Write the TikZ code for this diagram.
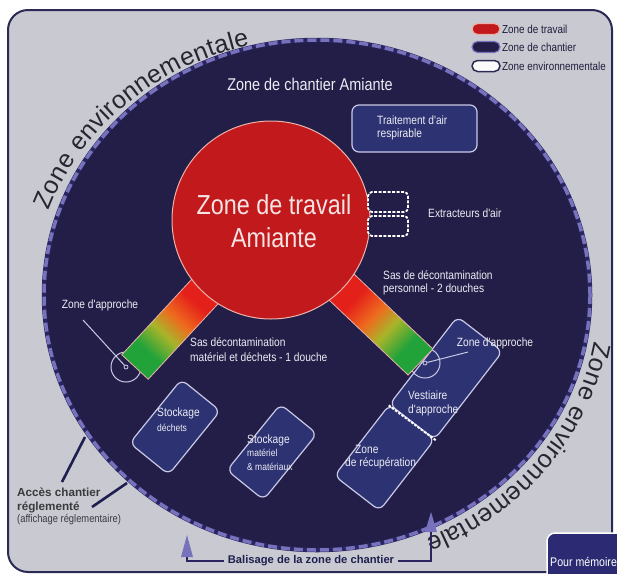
\documentclass[tikz,border=0pt]{standalone}
\usepackage{fontspec}
\setmainfont{Liberation Sans}
\newfontfamily\nar[FakeStretch=0.85]{Liberation Sans}
\usetikzlibrary{decorations.text}
\definecolor{bgframe}{HTML}{C8C9D1}
\definecolor{framec}{HTML}{2B2A55}
\definecolor{navy}{HTML}{231E47}
\definecolor{lav}{HTML}{7772BC}
\definecolor{ringdark}{HTML}{2A2560}
\definecolor{redz}{HTML}{C2191C}
\definecolor{redb}{HTML}{EBB2AA}
\definecolor{boxfill}{HTML}{2D3272}
\definecolor{boxline}{HTML}{C9C9E6}
\definecolor{txtw}{HTML}{ECECF4}
\definecolor{sgreen}{HTML}{22A33A}
\definecolor{solive}{HTML}{A9B42A}
\definecolor{sorange}{HTML}{EE6A1E}
\definecolor{sred}{HTML}{E4201A}
\definecolor{darktxt}{HTML}{3A3A3E}
\definecolor{baltxt}{HTML}{1F1F4F}
\definecolor{pmfill}{HTML}{2B2A72}
\definecolor{envtxt}{HTML}{262630}
\definecolor{legtxt}{HTML}{1E1E3C}
\definecolor{worktxt}{HTML}{F6E4E4}
\pgfdeclarehorizontalshading{sasgrad}{100bp}{color(0bp)=(sgreen); color(30bp)=(sgreen); color(36bp)=(solive); color(41bp)=(sorange); color(47bp)=(sred); color(100bp)=(sred)}
\begin{document}
\begin{tikzpicture}[x=1pt,y=-1pt,
  lbl/.style={font={\nar\fontsize{12}{14}\selectfont}, text=txtw, inner sep=0pt, anchor=west},
  sml/.style={font={\nar\fontsize{10}{12}\selectfont}, text=txtw, inner sep=0pt, anchor=west},
  zbox/.style={draw=boxline, line width=1.2pt, fill=boxfill, rounded corners=7pt, inner sep=0pt},
  extr/.style={draw=white, line width=1.8pt, dash pattern=on 3pt off 1.5pt, fill=navy, rounded corners=4pt, minimum width=40pt, minimum height=20pt, inner sep=0pt},
  pill/.style={rounded corners=5.5pt, minimum width=28pt, minimum height=11pt, inner sep=0pt},
  legt/.style={font={\nar\fontsize{11.6}{14}\selectfont}, text=legtxt, inner sep=0pt, anchor=west},
  ring/.style={draw=boxline, line width=1pt, circle, inner sep=0pt},
  ptr/.style={draw=boxline, line width=1pt},
  acc/.style={draw=baltxt, line width=2.6pt},
  bal/.style={draw=ringdark, line width=1.6pt},
  envtext/.style={decorate, decoration={text along path, text align=left, raise=9pt,
    text={|\fontsize{25}{25}\selectfont\color{envtxt}|Zone environnementale}}}
]
\path[use as bounding box] (0,0) rectangle (617,573);
\clip (0,0) rectangle (617,573);

% frame
\draw[fill=bgframe, draw=framec, line width=2pt, rounded corners=20pt] (8,10) rectangle (612,572);

% construction zone ellipse
\fill[navy] (317,295) ellipse[x radius=273, y radius=255];
\draw[ringdark, line width=4.5pt] (317,295) ellipse[x radius=273, y radius=255];
\draw[lav, line width=3.5pt, dash pattern=on 9pt off 4pt] (317,295) ellipse[x radius=273, y radius=255];

% arc texts
\path[envtext] (317,295) ++(199:275 and 248) arc[start angle=199, end angle=262, x radius=275, y radius=248];
\path[envtext] (317,295) ++(10:273 and 255) arc[start angle=10, end angle=85, x radius=273, y radius=255];

% title
\node[font={\nar\fontsize{17}{20}\selectfont}, text=txtw, inner sep=0pt] (title) at (310,84) {Zone de chantier Amiante};

% boxes
\node[zbox, minimum width=125pt, minimum height=47pt] (trait) at (414.5,128.5) {};
\node[lbl] at (377,120) {Traitement d'air};
\node[lbl] at (377,134) {respirable};

\node[zbox, minimum width=111pt, minimum height=57pt, rotate=52.3] (vest) at (446,378) {};
\node[zbox, minimum width=90pt, minimum height=57pt, rotate=52.3] (recup) at (384.5,457.6) {};
\draw[white, line width=2pt, dash pattern=on 2.5pt off 1.5pt] ([xshift=1pt]vest.south west) -- ([xshift=-1pt]vest.north west);
\node[zbox, minimum width=82pt, minimum height=50pt, rotate=51] (stockd) at (175,427) {};
\node[zbox, minimum width=85pt, minimum height=47pt, rotate=51] (stockm) at (272,452) {};

% zone d'approche circles
\node[ring, minimum size=30pt] (zaL) at (126,367) {};
\node[ring, minimum size=30pt] (zaR) at (425,363) {};

% sas bars
\begin{scope}[transform canvas={shift={(135,367)}, rotate=47.2}]
  \shade[shading=sasgrad, draw=redb, line width=0.8pt] (0,-18) rectangle (200,18);
\end{scope}
\begin{scope}[transform canvas={shift={(420.5,362)}, rotate=136.5}]
  \shade[shading=sasgrad, draw=redb, line width=0.8pt] (0,-18) rectangle (206,18);
\end{scope}

% dots and pointers
\node[ring, minimum size=4pt, line width=0.8pt] (dotL) at (126,367) {};
\node[ring, minimum size=4pt, line width=0.8pt] (dotR) at (425,363) {};
\coordinate (pL) at (83,320);
\coordinate (pR) at (468,352);
\draw[ptr] (pL) -- (dotL);
\draw[ptr] (dotR) -- (pR);

% work zone
\node[circle, fill=redz, draw=redb, line width=1pt, minimum size=198pt, inner sep=0pt] (work) at (271,220) {};
\node[font={\nar\fontsize{27.5}{33}\selectfont}, text=worktxt, align=center, inner sep=0pt] (worklbl) at (274,221) {Zone de travail\\Amiante};

% extractors
\node[extr] (ex1) at (388,202) {};
\node[extr] (ex2) at (388,226) {};
\node[lbl] (extl) at (428,213) {Extracteurs d'air};

% labels
\node[lbl] at (383,275) {Sas de décontamination};
\node[lbl] at (383,289) {personnel - 2 douches};
\node[lbl] at (190,342) {Sas décontamination};
\node[lbl] at (190,357) {matériel et déchets - 1 douche};
\node[lbl, anchor=center] (zalL) at (100,305) {Zone d'approche};
\node[lbl, anchor=center] (zalR) at (495,343) {Zone d'approche};
\node[lbl] at (408,395) {Vestiaire};
\node[lbl] at (408,410) {d'approche};
\node[lbl] at (355,449) {Zone};
\node[lbl] at (345,463) {de récupération};
\node[lbl] at (157,413) {Stockage};
\node[sml] at (157,428) {déchets};
\node[lbl] at (247,440) {Stockage};
\node[sml] at (247,453) {matériel};
\node[sml] at (247,467) {\& matériaux};

% legend
\node[pill, fill=redz, draw=redb, line width=1.2pt] (lg1) at (486,29) {};
\node[pill, fill=navy, draw=lav, line width=1.2pt] (lg2) at (486,47) {};
\node[pill, fill=white!92!bgframe, draw=framec, line width=1.5pt] (lg3) at (486,66) {};
\node[legt] at (502,29) {Zone de travail};
\node[legt] at (502,47) {Zone de chantier};
\node[legt] at (502,66) {Zone environnementale};

% acces chantier
\node[font={\bfseries\fontsize{11.7}{14}\selectfont}, text=darktxt, inner sep=0pt, anchor=west] (acc1) at (17,492) {Accès chantier};
\node[font={\bfseries\fontsize{11.7}{14}\selectfont}, text=darktxt, inner sep=0pt, anchor=west] (acc2) at (17,507) {réglementé};
\node[font={\nar\fontsize{11}{13}\selectfont}, text=darktxt, inner sep=0pt, anchor=west] (acc3) at (17,520) {(affichage réglementaire)};
\coordinate (a1s) at (62,482);
\coordinate (a1e) at (85,437);
\coordinate (a2s) at (92,507);
\coordinate (a2e) at (127,483);
\draw[acc] (a1s) -- (a1e);
\draw[acc] (a2s) -- (a2e);

% balisage
\node[font={\bfseries\fontsize{11.2}{14}\selectfont}, text=baltxt, inner sep=0pt] (balt) at (311,561) {Balisage de la zone de chantier};
\fill[lav] (181,557) -- (193,557) -- (187,535) -- cycle;
\fill[lav] (425,532) -- (437,532) -- (431,512) -- cycle;
\coordinate (triL) at (187,557);
\coordinate (triR) at (431,532);
\draw[bal] ([xshift=-4pt]balt.west) -| (triL);
\draw[bal] ([xshift=4pt]balt.east) -| (triR);

% pour memoire
\draw[fill=pmfill, draw=white, line width=1.5pt, rounded corners=8pt] (547,533) rectangle (640,600);
\node[font={\nar\fontsize{12.5}{14}\selectfont}, text=white, inner sep=0pt, anchor=west] (pm) at (550,562) {Pour mémoire};
\end{tikzpicture}
\end{document}
